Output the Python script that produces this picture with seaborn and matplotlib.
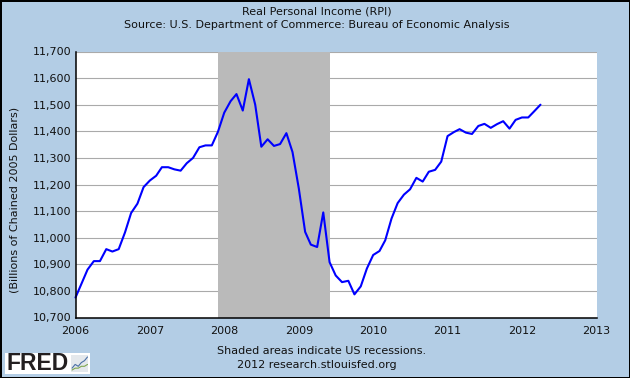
import pandas as pd
import matplotlib
matplotlib.use('Agg')
import matplotlib.pyplot as plt
import seaborn as sns

values_2006 = [10775, 10830, 10880, 10912, 10912, 10957, 10948, 10957, 11020, 11093, 11128, 11190]
values_2007 = [11215, 11233, 11265, 11265, 11257, 11252, 11280, 11300, 11340, 11347, 11347, 11398]
values_2008 = [11470, 11513, 11540, 11478, 11596, 11500, 11342, 11370, 11345, 11352, 11393, 11322]
values_2009 = [11185, 11022, 10974, 10965, 11095, 10908, 10858, 10833, 10838, 10787, 10817, 10884]
values_2010 = [10935, 10950, 10990, 11072, 11130, 11162, 11182, 11225, 11211, 11248, 11255, 11286]
values_2011 = [11382, 11397, 11408, 11395, 11390, 11420, 11428, 11413, 11427, 11438, 11410, 11443]
values_2012 = [11452, 11452, 11475, 11500]

recession_start = '2007-12-01'
recession_end = '2009-06-01'
y_ticks = list(range(10700, 11800, 100))
year_ticks = list(range(2006, 2014))

# small line in the logo
logo_a = [2, 4, 3, 5, 6, 8]
logo_b = [1, 2, 2, 3, 3, 4]

BG = '#B3CDE5'
GRID = '#AAAAAA'
TEXT = '#111111'

sns.set_style('white')
plt.rcParams['font.family'] = ['DejaVu Sans']
plt.rcParams['font.size'] = 8

rpi = values_2006 + values_2007 + values_2008 + values_2009 + values_2010 + values_2011 + values_2012
df = pd.DataFrame({'date': pd.date_range('2006-01-01', periods=len(rpi), freq='MS'), 'rpi': rpi})

W, H = 630, 378
fig = plt.figure(figsize=(W / 100, H / 100), dpi=100, facecolor=BG, edgecolor='black', linewidth=2)
ax = fig.add_axes([75.5 / W, 1 - 317.5 / H, (596.5 - 75.5) / W, (317.5 - 51.5) / H])
ax.set_facecolor('white')

ax.grid(axis='y', color=GRID, linewidth=0.8, zorder=1)
ax.set_axisbelow(True)
ax.axvspan(pd.Timestamp(recession_start), pd.Timestamp(recession_end), color='#BABABA', linewidth=0, zorder=2)
sns.lineplot(data=df, x='date', y='rpi', color='#0000FF', linewidth=1.5, ax=ax, zorder=3, clip_on=False)

ax.set_xlim(pd.Timestamp('2006-01-01'), pd.Timestamp('2013-01-01'))
ax.set_ylim(10700, 11700)
ax.set_yticks(y_ticks)
ax.set_yticklabels([f'{v:,}' for v in y_ticks])
ax.set_xticks([pd.Timestamp(f'{y}-01-01') for y in year_ticks])
ax.set_xticklabels([str(y) for y in year_ticks])
ax.tick_params(axis='both', direction='in', length=4.5, width=1, color='black', labelcolor=TEXT, labelsize=8, zorder=5)
ax.tick_params(axis='x', pad=6)
ax.tick_params(axis='y', pad=3)
ax.set_xlabel('')
ax.set_ylabel('')

for side in ['top', 'right']:
	ax.spines[side].set_visible(False)
for side in ['left', 'bottom']:
	ax.spines[side].set_color('black')
	ax.spines[side].set_linewidth(1.1)
	ax.spines[side].set_zorder(6)

fig.text(317 / W, 1 - 11 / H, 'Real Personal Income (RPI)', ha='center', va='center', color=TEXT, fontsize=8)
fig.text(317 / W, 1 - 25 / H, 'Source: U.S. Department of Commerce: Bureau of Economic Analysis', ha='center', va='center', color=TEXT, fontsize=8)
fig.text(15 / W, 1 - 200 / H, '(Billions of Chained 2005 Dollars)', rotation=90, ha='center', va='center', color=TEXT, fontsize=8)
fig.text(321.5 / W, 1 - 351 / H, 'Shaded areas indicate US recessions.', ha='center', va='center', color=TEXT, fontsize=8)
fig.text(317 / W, 1 - 365 / H, '2012 research.stlouisfed.org', ha='center', va='center', color=TEXT, fontsize=8)

# FRED logo, white box with word and tiny chart
logo = fig.add_axes([5 / W, 1 - 374 / H, 85 / W, 21 / H])
logo.set_xticks([])
logo.set_yticks([])
logo.set_xlim(0, 85)
logo.set_ylim(0, 21)
for spine in logo.spines.values():
	spine.set_visible(False)
logo.text(1, 10, 'FRED', fontsize=16.5, fontweight='bold', color='#231F20', ha='left', va='center', family='Liberation Sans')
chart = logo.inset_axes([0.78, 0.1, 0.2, 0.8])
chart.set_facecolor('#E4E8EC')
chart.set_xticks([])
chart.set_yticks([])
for spine in chart.spines.values():
	spine.set_visible(False)
sns.lineplot(x=range(len(logo_a)), y=logo_a, color='#4A6FA5', linewidth=0.8, ax=chart)
sns.lineplot(x=range(len(logo_b)), y=logo_b, color='#7FA650', linewidth=0.8, ax=chart)
chart.set_ylim(0, 9)

fig.savefig('out.png', dpi=100)
